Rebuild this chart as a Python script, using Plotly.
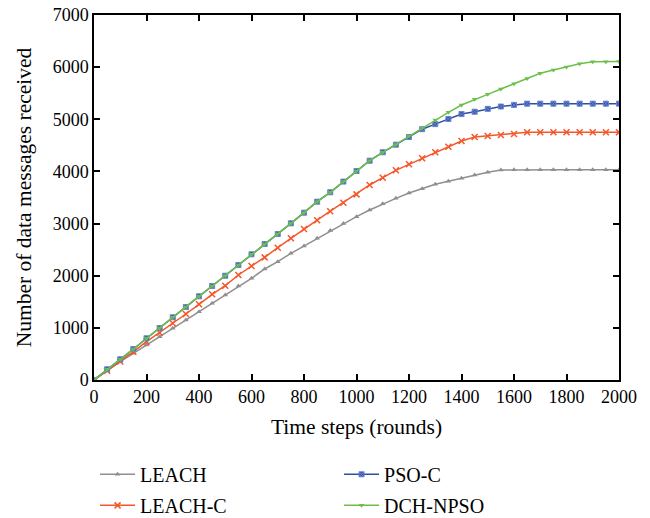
import plotly.graph_objects as go

rounds = list(range(0, 2001, 50))

leach = [0, 179, 351, 511, 671, 831, 991, 1151, 1310, 1470, 1630, 1803, 1950, 2129, 2269,
         2429, 2570, 2717, 2865, 3000, 3132, 3260, 3380, 3484, 3586, 3669, 3753, 3810, 3868,
         3932, 3983, 4027, 4030, 4030, 4030, 4030, 4030, 4030, 4030, 4030, 4030]

leach_c = [0, 179, 355, 543, 735, 907, 1087, 1266, 1451, 1643, 1809, 2014, 2186, 2352, 2538,
           2717, 2897, 3064, 3237, 3400, 3560, 3740, 3880, 4021, 4136, 4251, 4366, 4475, 4584,
           4660, 4680, 4699, 4718, 4750, 4750, 4750, 4750, 4750, 4750, 4750, 4750]

pso_c = [0, 205, 397, 594, 799, 997, 1202, 1400, 1605, 1803, 2000, 2205, 2410, 2608, 2800,
         3004, 3209, 3420, 3600, 3805, 4008, 4206, 4367, 4513, 4660, 4810, 4907, 5006, 5100,
         5145, 5200, 5245, 5276, 5300, 5300, 5300, 5300, 5300, 5300, 5300, 5300]

dch_npso = [0, 205, 397, 594, 799, 997, 1202, 1400, 1605, 1803, 2000, 2205, 2410, 2608, 2800,
            3004, 3209, 3420, 3600, 3805, 4008, 4206, 4367, 4513, 4673, 4826, 4986, 5133, 5274,
            5382, 5478, 5580, 5682, 5782, 5884, 5945, 6003, 6066, 6105, 6105, 6110]

x_ticks = list(range(0, 2001, 200))
y_ticks = list(range(0, 7001, 1000))

FONT = "Liberation Serif"

fig = go.Figure()
fig.add_trace(go.Scatter(x=rounds, y=leach, name="LEACH", mode="lines+markers",
                         line=dict(color="#8f8f8f", width=1.5),
                         marker=dict(symbol="triangle-up", size=5, color="#8f8f8f"),
                         legend="legend", legendrank=1))
fig.add_trace(go.Scatter(x=rounds, y=leach_c, name="LEACH-C", mode="lines+markers",
                         line=dict(color="#f4572a", width=1.5),
                         marker=dict(symbol="x-thin", size=6, color="#f4572a",
                                     line=dict(color="#f4572a", width=1.5)),
                         legend="legend2", legendrank=1))
fig.add_trace(go.Scatter(x=rounds, y=pso_c, name="PSO-C", mode="lines+markers",
                         line=dict(color="#2d4ea3", width=1.5),
                         marker=dict(symbol="square-x", size=5, color="#2d4ea3",
                                     line=dict(color="#6b86d0", width=1)),
                         legend="legend", legendrank=2))
fig.add_trace(go.Scatter(x=rounds, y=dch_npso, name="DCH-NPSO", mode="lines+markers",
                         line=dict(color="#6cc04a", width=1.5),
                         marker=dict(symbol="triangle-down", size=5, color="#6cc04a"),
                         legend="legend2", legendrank=2))

axis_common = dict(showline=True, linecolor="black", linewidth=1.5, mirror="ticks",
                   ticks="inside", ticklen=6, tickwidth=1.5, tickcolor="black",
                   showgrid=False, zeroline=False, automargin=False,
                   tickfont=dict(family=FONT, size=18, color="black"))

fig.update_xaxes(range=[0, 2000], tickvals=x_ticks,
                 title=dict(text="Time steps (rounds)", font=dict(family=FONT, size=21.5, color="black"),
                            standoff=13),
                 **axis_common)
fig.update_yaxes(range=[0, 7000], tickvals=y_ticks,
                 title=dict(text="Number of data messages received",
                            font=dict(family=FONT, size=21.5, color="black"), standoff=15),
                 **axis_common)

legend_common = dict(orientation="h", x=0.002, xanchor="left", yanchor="top",
                     entrywidth=194, entrywidthmode="pixels", itemwidth=35,
                     font=dict(family=FONT, size=20, color="black"),
                     bgcolor="rgba(0,0,0,0)")

fig.update_layout(
    width=650, height=518,
    margin=dict(l=94, r=31, t=15, b=138, autoexpand=False),
    plot_bgcolor="white", paper_bgcolor="white",
    font=dict(family=FONT, size=18, color="black"),
    showlegend=True,
    legend=dict(y=-0.205, **legend_common),
    legend2=dict(y=-0.29, **legend_common),
)

fig.write_html("out.html",
               config={"displayModeBar": False},
               post_script="document.body.style.margin='0px';document.body.style.overflow='hidden';")
